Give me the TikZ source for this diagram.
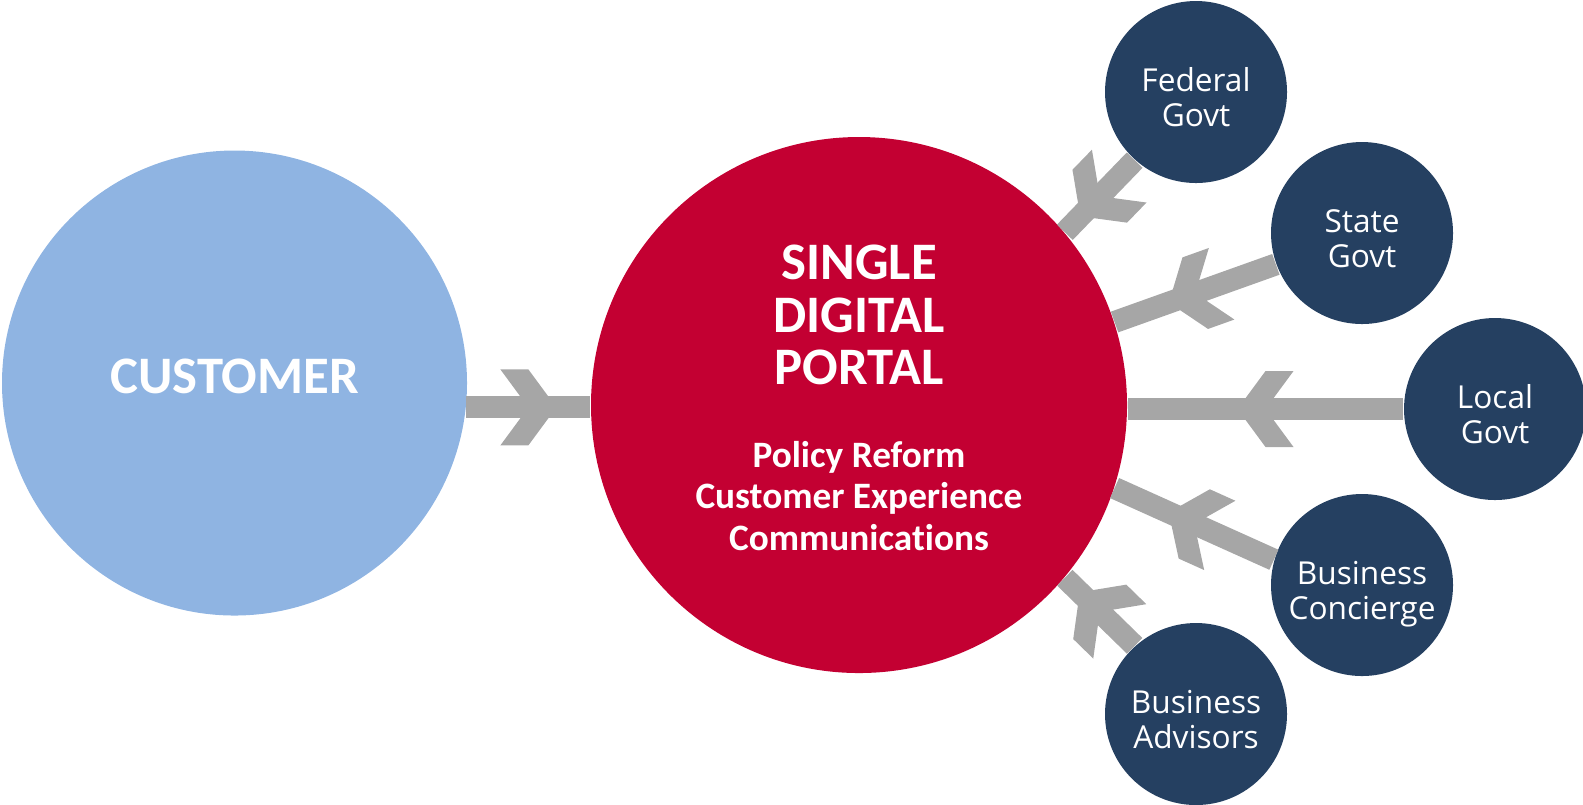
\documentclass[tikz,border=0pt]{standalone}
\usepackage{fontspec}
\setmainfont{Carlito}[Ligatures=NoCommon]
\newfontfamily\govfont{Open Sans}
\usetikzlibrary{positioning}
\usetikzlibrary{calc}
\usetikzlibrary{decorations.markings}

\definecolor{custblue}{HTML}{8FB4E2}
\definecolor{portalred}{HTML}{C30032}
\definecolor{govnavy}{HTML}{254061}
\definecolor{linkgray}{HTML}{A6A6A6}

\begin{document}
\begin{tikzpicture}[
		party/.style={circle, fill=govnavy, minimum size=1.82cm, inner sep=0pt, align=center, text=white, text height=0.79cm, text depth=0.1cm, font=\govfont\fontsize{9}{10}\selectfont},
		link/.style={draw=linkgray, line width=0.22cm, postaction={decorate},
			decoration={markings, mark=at position 0.5 with {\fill[linkgray] (-0.28,0.38) -- (0,0.38) -- (0.28,0) -- (0,-0.38) -- (-0.28,-0.38) -- (0,0) -- cycle;}}}
	]
				\useasboundingbox (0,0) rectangle (15.83,-8.04);
				% the two big circles
				\node[circle, fill=custblue, minimum size=4.65cm, inner sep=0pt] (cust) at (2.345,-3.83) {};
				\node[circle, fill=portalred, minimum size=5.36cm, inner sep=0pt] (portal) at (8.59,-4.05) {};
				\node[text=white, font=\bfseries\fontsize{15}{15}\selectfont] (custtext) at ($(cust.center)+(0,0.07)$) {CUSTOMER};
				\node[text=white, align=center, font=\bfseries\fontsize{15}{15}\selectfont] (title) at ($(portal.center)+(0,0.9)$) {SINGLE\\DIGITAL\\PORTAL};
				\node[text=white, align=center, font=\bfseries\fontsize{10.6}{11.7}\selectfont] (tasks) at ($(portal.center)+(0,-0.91)$) {Policy Reform\\Customer Experience\\Communications};
				% the parties round the portal
				\node[party] (fed) at (11.96,-0.92) {Federal\\Govt};
				\node[party] (state) at (13.62,-2.33) {State\\Govt};
				\node[party] (local) at (14.95,-4.09) {Local\\Govt};
				\node[party] (conc) at (13.62,-5.85) {Business\\Concierge};
				\node[party] (adv) at (11.96,-7.14) {Business\\Advisors};
				% links
				\draw[link] (cust.-6.4) -- (cust.-6.4 -| portal.west);
				\draw[link] (fed.228) -- (portal.40);
				\draw[link] (state.200) -- (portal.18);
				\draw[link] (local.west) -- (local.west -| portal.east);
				\draw[link] (conc.164) -- (portal.-18);
				\draw[link] (adv.132) -- (portal.-40);
		    \end{tikzpicture}
\end{document}
